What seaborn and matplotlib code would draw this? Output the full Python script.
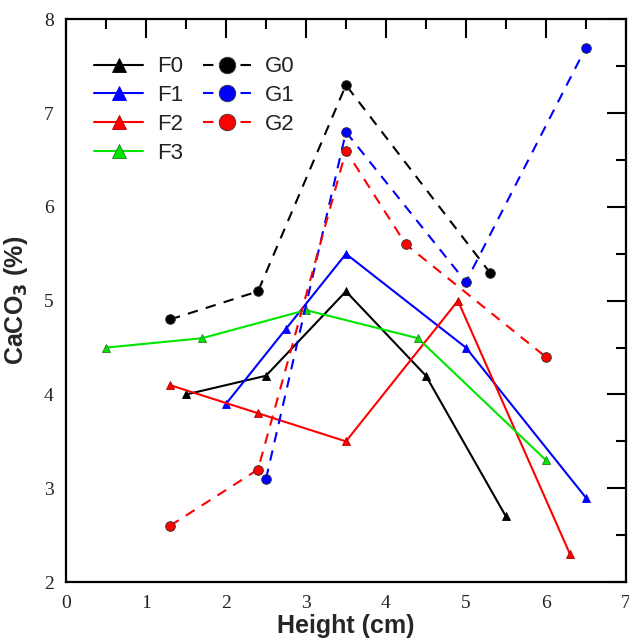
import matplotlib
matplotlib.use("Agg")
import matplotlib.pyplot as plt
import seaborn as sns
import pandas as pd
from matplotlib.ticker import MultipleLocator

# ---- data ----
f0_x = [1.5, 2.5, 3.5, 4.5, 5.5]
f0_y = [4.0, 4.2, 5.1, 4.2, 2.7]
f1_x = [2.0, 2.75, 3.5, 5.0, 6.5]
f1_y = [3.9, 4.7, 5.5, 4.5, 2.9]
f2_x = [1.3, 2.4, 3.5, 4.9, 6.3]
f2_y = [4.1, 3.8, 3.5, 5.0, 2.3]
f3_x = [0.5, 1.7, 3.0, 4.4, 6.0]
f3_y = [4.5, 4.6, 4.9, 4.6, 3.3]
g0_x = [1.3, 2.4, 3.5, 5.3]
g0_y = [4.8, 5.1, 7.3, 5.3]
g1_x = [2.5, 3.5, 5.0, 6.5]
g1_y = [3.1, 6.8, 5.2, 7.7]
g2_x = [1.3, 2.4, 3.5, 4.25, 6.0]
g2_y = [2.6, 3.2, 6.6, 5.6, 4.4]

x_ticks = [0, 1, 2, 3, 4, 5, 6, 7]
y_ticks = [2, 3, 4, 5, 6, 7, 8]

series = [
    ("F0", f0_x, f0_y, "black", "^", "-"),
    ("F1", f1_x, f1_y, "#0000ff", "^", "-"),
    ("F2", f2_x, f2_y, "#ff0000", "^", "-"),
    ("F3", f3_x, f3_y, "#00e600", "^", "-"),
    ("G0", g0_x, g0_y, "black", "o", "--"),
    ("G1", g1_x, g1_y, "#0000ff", "o", "--"),
    ("G2", g2_x, g2_y, "#ff0000", "o", "--"),
]

sns.set_style("white")
plt.rcParams["font.family"] = ["DejaVu Sans"]

fig = plt.figure(figsize=(6.29, 6.40), dpi=100)
ax = fig.add_axes([0.105, 0.0906, 0.890, 0.879])

for name, xs, ys, col, mk, ls in series:
    df = pd.DataFrame({"x": xs, "y": ys})
    ms = 6 if mk == "^" else 7
    sns.lineplot(data=df, x="x", y="y", ax=ax, color=col, sort=False,
                 marker=mk, markersize=ms,
                 markeredgecolor="#333333" if mk == "o" else col,
                 markeredgewidth=0.6, linewidth=1.5, label=name,
                 estimator=None)
    l = ax.get_lines()[-1]
    if ls == "--":
        l.set_dashes([5, 4])
    if name == "F3":
        l.set_markeredgecolor("#2a7a2a")
    if name == "F2":
        l.set_markeredgecolor("#aa0000")

ax.set_xlim(0, 7)
ax.set_ylim(2, 8)
ax.set_xticks(x_ticks)
ax.set_yticks(y_ticks)
ax.xaxis.set_minor_locator(MultipleLocator(0.5))
ax.yaxis.set_minor_locator(MultipleLocator(0.5))
ax.tick_params(which="both", direction="in", top=True, right=True,
               labeltop=False, labelright=False, width=1.5, color="black")
ax.tick_params(which="major", length=14, pad=9)
ax.tick_params(which="minor", length=7)
for lab in ax.get_xticklabels() + ax.get_yticklabels():
    lab.set_fontfamily("Liberation Serif")
    lab.set_fontsize(14)
    lab.set_color("#222222")
for sp in ax.spines.values():
    sp.set_linewidth(1.6)
    sp.set_color("black")

ax.set_xlabel("Height (cm)", fontsize=18, fontweight="bold",
              family="Liberation Sans", labelpad=2)
ax.set_ylabel("CaCO$_\\mathbf{3}$ (%)", fontsize=18, fontweight="bold",
              family="Liberation Sans", labelpad=10)

leg = ax.legend(ncol=2, loc="upper left", bbox_to_anchor=(0.015, 0.97),
                frameon=False, markerscale=1.7,
                handlelength=2.2, columnspacing=0.9, handletextpad=0.6,
                labelspacing=0.35, prop={"family": "Liberation Sans", "size": 16})
for t in leg.get_texts():
    t.set_color("#222222")

fig.savefig("out.png", dpi=100)
